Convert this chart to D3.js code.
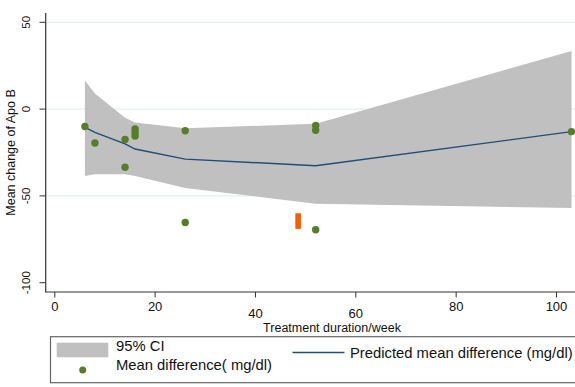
<!DOCTYPE html>
<html>
<head>
<meta charset="utf-8">
<script src="https://cdn.jsdelivr.net/npm/d3@7/dist/d3.min.js"></script>
<style>
  html, body { margin: 0; padding: 0; background: #fff; }
  svg { display: block; font-family: "Liberation Sans", Arial, sans-serif; }
</style>
</head>
<body>
<svg id="chart" width="575" height="387"></svg>
<script>
// Observed mean differences by treatment duration (weeks)
const weeks    = [6, 8, 14, 14, 16, 16, 16, 26, 26, 52, 52, 52, 103];
const meanDiff = [-10, -19.5, -17.5, -33.5, -11.5, -13.5, -15.5, -12.5, -65.3, -9.4, -12.2, -69.5, -13];

// Meta-regression fit and its 95% confidence band
const fitWeeks  = [6, 8, 14, 16, 26, 52, 103];
const predicted = [-10.5, -13.4, -20, -23, -28.8, -32.6, -13];
const ciUpper   = [16.5, 9, -5, -7.7, -11, -8.5, 33.5];
const ciLower   = [-38.5, -37.5, -37.5, -38.5, -45.5, -54.5, -57];

// Highlighted marker
const markWeek  = 48.5;
const markRange = [-60, -69];

const xTicks = [0, 20, 40, 60, 80, 100];
const yTicks = [-100, -50, 0, 50];
const gridValues = [-50, 0, 50];

const svg = d3.select("#chart");

const x = d3.scaleLinear().domain([0, 100]).range([54.8, 556.5]);
const y = d3.scaleLinear().domain([-100, 50]).range([282.7, 22.3]);

const plotLeft = 45.7, plotRight = 575, plotTop = 13, plotBottom = 292;

// grid lines
svg.append("g").selectAll("line").data(gridValues).join("line")
  .attr("x1", plotLeft).attr("x2", plotRight)
  .attr("y1", d => y(d)).attr("y2", d => y(d))
  .attr("stroke", "#e6eff0").attr("stroke-width", 1.2);

// confidence band
const band = d3.area()
  .x((d, i) => x(fitWeeks[i]))
  .y0((d, i) => y(ciLower[i]))
  .y1((d, i) => y(ciUpper[i]));
svg.append("path").datum(fitWeeks).attr("d", band).attr("fill", "#c0c0c0");

// predicted line
const line = d3.line().x((d, i) => x(fitWeeks[i])).y((d, i) => y(predicted[i]));
svg.append("path").datum(fitWeeks).attr("d", line)
  .attr("fill", "none").attr("stroke", "#1f4e79").attr("stroke-width", 1.4);

// observed points
svg.append("g").selectAll("circle").data(weeks).join("circle")
  .attr("cx", d => x(d)).attr("cy", (d, i) => y(meanDiff[i]))
  .attr("r", 3.7).attr("fill", "#567d28");

// orange marker
svg.append("rect")
  .attr("x", x(markWeek) - 2.8).attr("width", 5.6)
  .attr("y", y(markRange[0])).attr("height", y(markRange[1]) - y(markRange[0]))
  .attr("fill", "#ff5a00");

// axes
const axisColor = "#333";
svg.append("line").attr("x1", plotLeft).attr("x2", plotLeft)
  .attr("y1", plotTop).attr("y2", plotBottom + 0.5)
  .attr("stroke", axisColor).attr("stroke-width", 1.2);
svg.append("line").attr("x1", plotLeft).attr("x2", plotRight)
  .attr("y1", plotBottom).attr("y2", plotBottom)
  .attr("stroke", axisColor).attr("stroke-width", 1.2);

// y ticks and labels
const yg = svg.append("g");
yg.selectAll("line").data(yTicks).join("line")
  .attr("x1", 39.5).attr("x2", plotLeft)
  .attr("y1", d => y(d)).attr("y2", d => y(d))
  .attr("stroke", axisColor).attr("stroke-width", 1);
yg.selectAll("text").data(yTicks).join("text")
  .attr("transform", d => `translate(30,${y(d)}) rotate(-90)`)
  .attr("text-anchor", "middle")
  .attr("font-size", 11.5).attr("fill", "#111")
  .text(d => d);

// x ticks and staggered labels
const xg = svg.append("g");
xg.selectAll("line").data(xTicks).join("line")
  .attr("x1", d => x(d)).attr("x2", d => x(d))
  .attr("y1", plotBottom).attr("y2", plotBottom + 5.5)
  .attr("stroke", axisColor).attr("stroke-width", 1);
xg.selectAll("text").data(xTicks).join("text")
  .attr("x", d => x(d))
  .attr("y", d => (d === 40 || d === 60) ? 317.5 : 311)
  .attr("text-anchor", "middle")
  .attr("font-size", 13).attr("fill", "#111")
  .text(d => d);

// axis titles
svg.append("text")
  .attr("x", 332).attr("y", 332)
  .attr("text-anchor", "middle").attr("font-size", 12.5).attr("fill", "#111")
  .text("Treatment duration/week");
svg.append("text")
  .attr("transform", `translate(14.5,${(plotTop + plotBottom) / 2}) rotate(-90)`)
  .attr("text-anchor", "middle").attr("font-size", 12.5).attr("fill", "#111")
  .text("Mean change of Apo B");

// legend
const lg = svg.append("g");
lg.append("rect").attr("x", 50.5).attr("y", 336.7).attr("width", 540).attr("height", 46)
  .attr("fill", "#fff").attr("stroke", "#666").attr("stroke-width", 1.2);
lg.append("rect").attr("x", 56.7).attr("y", 342.7).attr("width", 51.6).attr("height", 14.6)
  .attr("fill", "#c0c0c0");
lg.append("circle").attr("cx", 82.7).attr("cy", 370).attr("r", 3.5).attr("fill", "#567d28");
lg.append("line").attr("x1", 292.5).attr("x2", 344.5).attr("y1", 352.5).attr("y2", 352.5)
  .attr("stroke", "#1f4e79").attr("stroke-width", 1.4);
lg.append("text").attr("x", 116).attr("y", 351).attr("font-size", 14.8).attr("fill", "#111")
  .text("95% CI");
lg.append("text").attr("x", 116).attr("y", 369.5).attr("font-size", 14.8).attr("fill", "#111")
  .text("Mean difference( mg/dl)");
lg.append("text").attr("x", 350).attr("y", 357.5).attr("font-size", 14.8).attr("fill", "#111")
  .text("Predicted mean difference (mg/dl)");
</script>
</body>
</html>
